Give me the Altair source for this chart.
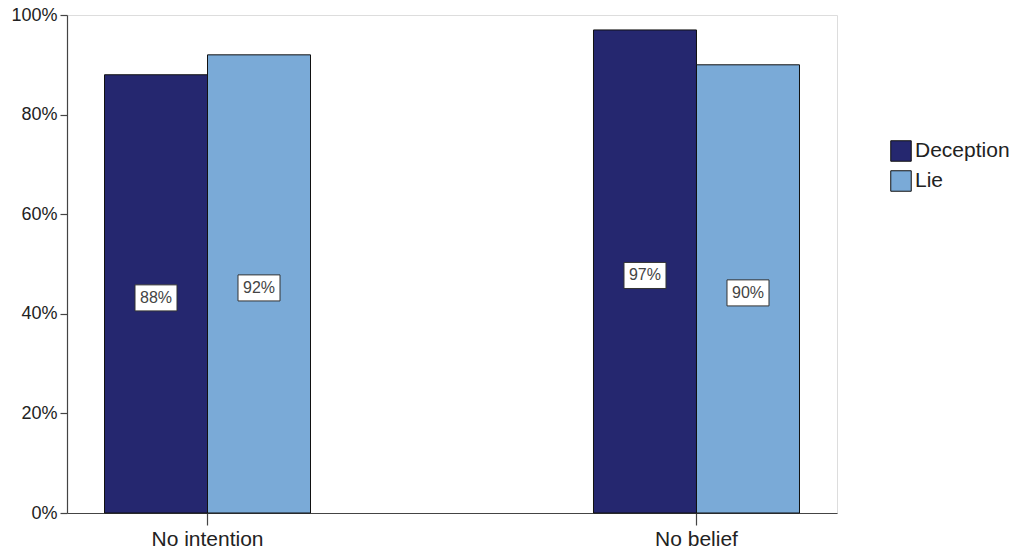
import altair as alt
import pandas as pd

categories = ["No intention", "No intention", "No belief", "No belief"]
series = ["Deception", "Lie", "Deception", "Lie"]
values = [0.88, 0.92, 0.97, 0.90]
labels = ["88%", "92%", "97%", "90%"]

df = pd.DataFrame({"cat": categories, "series": series, "value": values, "label": labels})

FONT = "Liberation Sans"
cat_order = ["No intention", "No belief"]

x = alt.X("cat:N", sort=cat_order, title=None,
          scale=alt.Scale(paddingInner=0.5787, paddingOuter=0.0767),
          axis=alt.Axis(labelAngle=0, labelFontSize=21, labelColor="#222", labelFont=FONT,
                        tickSize=12, tickColor="#444", domainColor="#444", labelPadding=3,
                        tickWidth=1.2, domainWidth=1.2))
xo = alt.XOffset("series:N", sort=["Deception", "Lie"], scale=alt.Scale(paddingInner=0, paddingOuter=0))

bars = alt.Chart(df).mark_bar(stroke="#111", strokeWidth=1).encode(
    x=x,
    xOffset=xo,
    y=alt.Y("value:Q", title=None,
            scale=alt.Scale(domain=[0, 1], nice=False),
            axis=alt.Axis(values=[0, 0.2, 0.4, 0.6, 0.8, 1.0], format=".0%", grid=False,
                          labelFontSize=18, labelColor="#222", labelFont=FONT,
                          tickSize=7, tickColor="#444", domainColor="#444", labelPadding=3,
                          tickWidth=1.2, domainWidth=1.2)),
    color=alt.Color("series:N", sort=["Deception", "Lie"],
                    scale=alt.Scale(domain=["Deception", "Lie"], range=["#25276f", "#7aaad7"]),
                    legend=alt.Legend(title=None, orient="none", legendX=823, legendY=125,
                                      symbolType="square", symbolSize=420,
                                      symbolStrokeColor="#111", symbolStrokeWidth=1,
                                      labelFontSize=21, labelFont=FONT, labelColor="#222",
                                      rowPadding=4, labelOffset=3)),
)

base_lbl = alt.Chart(df).transform_calculate(mid="datum.value / 2")

boxes = base_lbl.mark_point(
    shape="M-1,-0.62L1,-0.62L1,0.62L-1,0.62Z", size=1764, filled=True,
    fill="white", stroke="#333", strokeWidth=1, opacity=1, yOffset=4
).encode(x=x, xOffset=xo, y=alt.Y("mid:Q"))

texts = base_lbl.mark_text(font=FONT, fontSize=16, color="#444", baseline="middle", yOffset=4).encode(
    x=x, xOffset=xo, y=alt.Y("mid:Q"), text="label:N")

chart = alt.layer(bars, boxes, texts).properties(
    width=770, height=498,
    autosize=alt.AutoSizeParams(type="none"),
    padding={"left": 67, "top": 15, "right": 175, "bottom": 41},
).configure_view(stroke="#888", strokeWidth=1.2).configure(background="white")

chart.save("out.html", embed_options={"renderer": "svg", "actions": False})
